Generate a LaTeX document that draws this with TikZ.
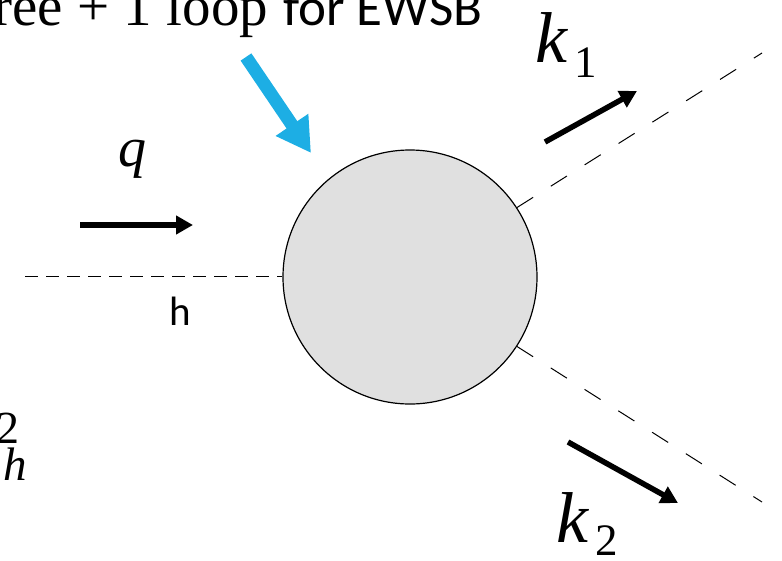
\documentclass[tikz,border=0pt]{standalone}
\usepackage{fontspec}
\setmainfont{Liberation Serif}
\newfontfamily\calib{Carlito}
\usetikzlibrary{arrows.meta}
\definecolor{skyarrow}{RGB}{29,174,228}
\definecolor{blobgray}{RGB}{224,224,224}
\begin{document}
\begin{tikzpicture}[x=1pt,y=-1pt,
  txt/.style={inner sep=0pt, outer sep=0pt},
  blob/.style={circle, draw=black, line width=1.2pt, fill=blobgray, minimum size=254pt, inner sep=0pt},
  hline/.style={line width=1pt, dash pattern=on 13pt off 8pt},
  dline/.style={line width=1pt, dash pattern=on 19pt off 21pt},
  momarrow/.style={line width=5.5pt, -{Triangle[length=17pt,width=18pt]}},
  callout/.style={line width=13pt, draw=skyarrow, -{Triangle[length=34pt,width=37pt]}}]
\useasboundingbox (0,0) rectangle (782,560);
\clip (0,0) rectangle (782,560);

% blob
\node[blob] (blob) at (410,277) {};

% scalar lines
\coordinate (hin) at (25,276);
\coordinate (k1end) at (762,53);
\coordinate (k2end) at (762,502);
\draw[hline] (hin) -- (hin -| blob.west);
\draw[dline] (blob.33) -- (k1end);
\draw[dline] (blob.-33) -- (k2end);

% momentum arrows
\coordinate (qa) at (80,225);
\coordinate (qb) at (193,225);
\draw[momarrow] (qa) -- (qb);
\coordinate (k1a) at (545,142);
\coordinate (k1b) at (637,91);
\draw[momarrow] (k1a) -- (k1b);
\coordinate (k2a) at (568,442);
\coordinate (k2b) at (678,503);
\draw[momarrow] (k2a) -- (k2b);

% callout arrow
\coordinate (ctail) at (246,57);
\coordinate (ctip) at (311,153);
\draw[callout] (ctail) -- (ctip);

% labels
\node[txt, anchor=base east] (toplabA) at (268,25) {\fontsize{57}{57}\selectfont ree + 1 loop};
\node[txt, anchor=base west] (toplabB) at (283,25) {\calib\fontsize{53}{53}\selectfont for EWSB};
\node[txt, anchor=base west] (qlab) at (118,166) {\fontsize{56}{56}\selectfont\itshape q};
\node[txt, anchor=base west] (hlab) at (169,325) {\calib\fontsize{41}{41}\selectfont h};
\node[txt, anchor=base west] (k1lab) at (535,62) {\fontsize{72}{72}\selectfont\itshape k\upshape\hspace{8pt}\raisebox{-15pt}{\fontsize{45}{45}\selectfont 1}};
\node[txt, anchor=base west] (k2lab) at (556,542) {\fontsize{72}{72}\selectfont\itshape k\upshape\hspace{8pt}\raisebox{-13pt}{\fontsize{45}{45}\selectfont 2}};
\node[txt, anchor=base east] (msup) at (20,443) {\fontsize{46}{46}\selectfont 2};
\node[txt, anchor=base east] (msub) at (27,480) {\fontsize{47}{47}\selectfont\itshape h};
\end{tikzpicture}
\end{document}
